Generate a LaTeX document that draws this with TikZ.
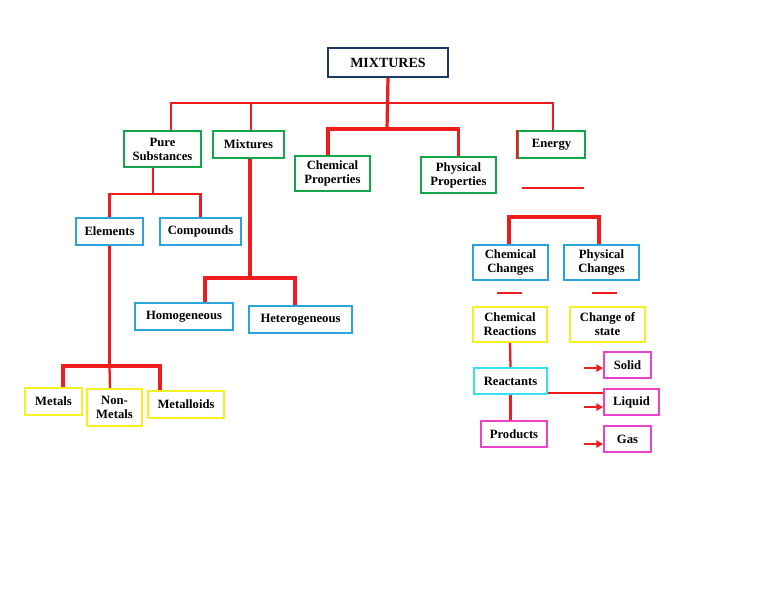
\documentclass[tikz,border=0pt]{standalone}
\usepackage{fontspec}
\setmainfont{Liberation Serif}
\usetikzlibrary{arrows.meta}
\definecolor{navy}{HTML}{1F3864}
\definecolor{gr}{HTML}{12A84A}
\definecolor{bl}{HTML}{2AA5DC}
\definecolor{yl}{HTML}{F5F020}
\definecolor{cy}{HTML}{36E2F0}
\definecolor{mg}{HTML}{EA42C8}
\definecolor{rd}{HTML}{EE1C1C}
\tikzset{
  bx/.style={draw, line width=1.5pt, inner sep=0pt, align=center, text=black,
    font=\bfseries\fontsize{9.5}{10.5}\selectfont},
  sz/.style 2 args={minimum width=#1*0.75pt, minimum height=#2*0.75pt},
  redl/.style={draw=rd, line width=1.7pt},
  redt/.style={draw=rd, line width=2.4pt},
  arr/.style={draw=rd, line width=1.6pt, -{Triangle[length=5pt,width=5.5pt]}},
}
\begin{document}
\begin{tikzpicture}[x=0.75pt,y=-0.75pt]
\useasboundingbox[fill=white] (0,0) rectangle (768,594);
% boxes
\node[bx, draw=navy, sz={120}{29}, font=\bfseries\fontsize{10.5}{12}\selectfont] (mix) at (388,62.5) {MIXTURES};
\node[bx, draw=gr, sz={77}{36}] (pure) at (162.5,149) {Pure\\Substances};
\node[bx, draw=gr, sz={71}{27}] (mixt) at (248.5,144.5) {Mixtures};
\node[bx, draw=gr, sz={75}{35}] (chemp) at (332.5,173.5) {Chemical\\Properties};
\node[bx, draw=gr, sz={75}{36}] (physp) at (458.5,175) {Physical\\Properties};
\node[bx, draw=gr, sz={67}{27}] (energy) at (551.5,144.5) {Energy};
\node[bx, draw=bl, sz={67}{27}] (elem) at (109.5,231.5) {Elements};
\node[bx, draw=bl, sz={81}{27}] (comp) at (200.5,231.5) {Compounds};
\node[bx, draw=bl, sz={98}{27}] (homo) at (184,316.5) {Homogeneous};
\node[bx, draw=bl, sz={103}{27}] (hetero) at (300.5,319.5) {Heterogeneous};
\node[bx, draw=yl, sz={57}{27}] (metals) at (53.5,401.5) {Metals};
\node[bx, draw=yl, sz={55}{37}] (nonmet) at (114.5,407.5) {Non-\\Metals};
\node[bx, draw=yl, sz={76}{27}] (metall) at (186,404.5) {Metalloids};
\node[bx, draw=bl, sz={75}{35}] (chemc) at (510.5,262.5) {Chemical\\Changes};
\node[bx, draw=bl, sz={75}{35}] (physc) at (601.5,262.5) {Physical\\Changes};
\node[bx, draw=yl, sz={74}{35}] (chemr) at (510,324.5) {Chemical\\Reactions};
\node[bx, draw=yl, sz={75}{35}] (cos) at (607.5,324.5) {Change of\\state};
\node[bx, draw=cy, sz={73}{26}] (react) at (510.5,381) {Reactants};
\node[bx, draw=mg, sz={66}{26}] (prod) at (514,434) {Products};
\node[bx, draw=mg, sz={47}{26}] (solid) at (627.5,365) {Solid};
\node[bx, draw=mg, sz={55}{26}] (liquid) at (631.5,402) {Liquid};
\node[bx, draw=mg, sz={47}{26}] (gas) at (627.5,439) {Gas};
% red left edge of Energy
\draw[redl] (energy.north west) -- (energy.south west);
% top level
\coordinate (j1) at (387,129);
\draw[redl] ([xshift=6.4pt]pure.north) -- ++(0,-27) -| ([xshift=1.1pt]energy.north);
\draw[redl] ([xshift=1.9pt]mixt.north) -- ++(0,-27);
\draw[redt] (mix.south) -- (j1);
\draw[redt] ([xshift=-3.4pt]chemp.north) |- (j1) -| (physp.north);
% pure substances
\draw[redl] ([xshift=-7.1pt]pure.south) -- ++(0,26) coordinate (j2);
\draw[redl] (elem.north) |- (j2) -| (comp.north);
% mixtures
\draw[redt] ([xshift=1.1pt]mixt.south) -- ++(0,119) coordinate (j3);
\draw[redt] ([xshift=15.75pt]homo.north) |- (j3) -| ([xshift=-4.1pt]hetero.north);
% elements
\draw[redl] (elem.south) -- ++(0,120) coordinate (j4);
\draw[redt] ([xshift=7.1pt]metals.north) |- (j4) -| ([xshift=-19.5pt]metall.north);
\draw[redl] ([xshift=-3.4pt]nonmet.north) -- (j4);
% energy side
\coordinate (e1) at (522,188); \coordinate (e2) at (584,188);
\draw[redl] (e1) -- (e2);
\draw[redt] ([xshift=-1.1pt]chemc.north) -- ++(0,-27) -| ([xshift=-1.9pt]physc.north);
\coordinate (d1) at (497,293); \coordinate (d2) at (522,293);
\coordinate (d3) at (592,293); \coordinate (d4) at (617,293);
\draw[redl] (d1) -- (d2);
\draw[redl] (d3) -- (d4);
\draw[redl] (chemr.south) -- (react.north);
\draw[redl] (react.south) -- (react.south |- prod.north);
\draw[redl] ([yshift=-9pt]react.east) coordinate (r1) -- (r1 -| liquid.west);
\draw[arr] ([xshift=-14pt,yshift=-2.3pt]solid.west) -- ([yshift=-2.3pt]solid.west);
\draw[arr] ([xshift=-14pt,yshift=-3.8pt]liquid.west) -- ([yshift=-3.8pt]liquid.west);
\draw[arr] ([xshift=-14pt,yshift=-3.8pt]gas.west) -- ([yshift=-3.8pt]gas.west);
\end{tikzpicture}
\end{document}
